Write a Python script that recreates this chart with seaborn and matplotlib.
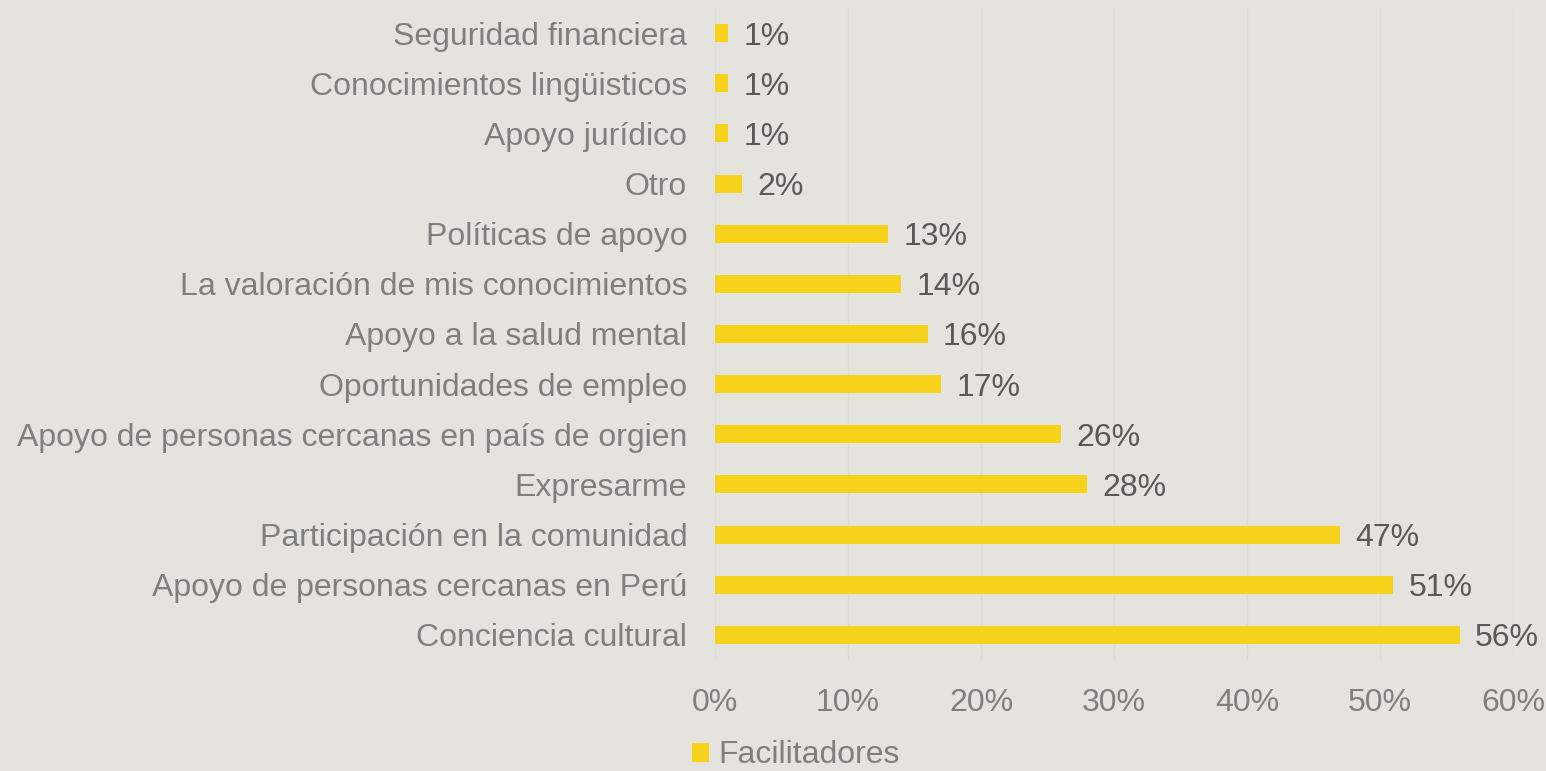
import matplotlib
matplotlib.use("Agg")
import matplotlib.pyplot as plt
import seaborn as sns
import pandas as pd
from matplotlib.ticker import PercentFormatter

categories = [
    "Seguridad financiera",
    "Conocimientos lingüisticos",
    "Apoyo jurídico",
    "Otro",
    "Políticas de apoyo",
    "La valoración de mis conocimientos",
    "Apoyo a la salud mental",
    "Oportunidades de empleo",
    "Apoyo de personas cercanas en país de orgien",
    "Expresarme",
    "Participación en la comunidad",
    "Apoyo de personas cercanas en Perú",
    "Conciencia cultural",
]
values = [1, 1, 1, 2, 13, 14, 16, 17, 26, 28, 47, 51, 56]
series_name = "Facilitadores"
xticks = [0, 10, 20, 30, 40, 50, 60]

df = pd.DataFrame({"cat": categories, "val": values})

BG = "#E4E3DD"
BAR = "#F6D21B"
sns.set_theme(style="white")
plt.rcParams["font.family"] = ["Liberation Sans", "DejaVu Sans"]

fig = plt.figure(figsize=(15.46, 7.71), dpi=100, facecolor=BG)
ax = fig.add_axes([0.4625, 0.144, 0.5162, 0.8456])
ax.set_facecolor(BG)

sns.barplot(data=df, x="val", y="cat", orient="h", color=BAR, width=0.36,
            saturation=1, ax=ax, label=series_name, edgecolor="none", linewidth=0)

ax.set_xlim(0, 60)
ax.set_ylim(len(categories) - 0.5, -0.5)
ax.set_xticks(xticks)
ax.xaxis.set_major_formatter(PercentFormatter(decimals=0))
ax.grid(axis="x", color="#DCDBD6", linewidth=1)
ax.set_axisbelow(True)
for s in ax.spines.values():
    s.set_visible(False)
ax.set_xlabel("")
ax.set_ylabel("")
ax.tick_params(axis="x", colors="#7F7F7F", labelsize=23, pad=20, length=0)
ax.tick_params(axis="y", colors="#7F7F7F", labelsize=23, pad=20, length=0)

texts = ax.bar_label(ax.containers[0], labels=[f"{v}%" for v in values], padding=11,
                     fontsize=23, color="#595959")
for t in texts:
    t.set_va("center_baseline")

h, l = ax.get_legend_handles_labels()
fig.legend(h, l, loc="lower left", bbox_to_anchor=(0.437, -0.02), frameon=False,
           fontsize=23, labelcolor="#7F7F7F", handlelength=0.55, handleheight=0.55,
           handletextpad=0.3, borderpad=0)
leg = ax.get_legend()
if leg:
    leg.remove()

fig.savefig("out.png", dpi=100, facecolor=BG)
